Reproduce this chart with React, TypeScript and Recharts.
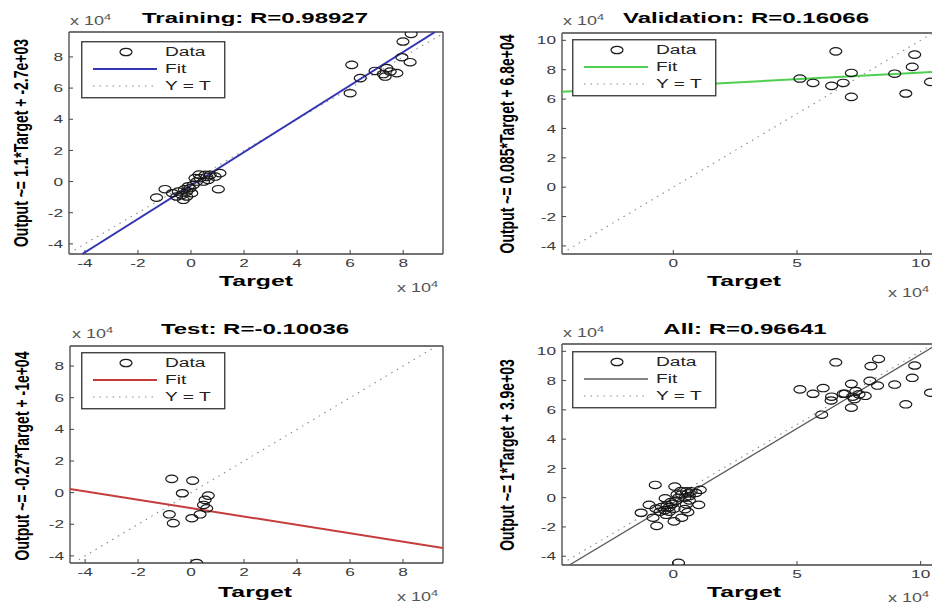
import React from 'react';
import { ScatterChart, Scatter, XAxis, YAxis, Legend } from 'recharts';

const FONT = '"Liberation Sans", Arial, Helvetica, sans-serif';

// ---------- data (values in units of 10^4) ----------
const trainingPoints = [
  { x: 8.3, y: 9.48 }, { x: 7.99, y: 8.99 }, { x: 6.06, y: 7.49 }, { x: 6.0, y: 5.67 },
  { x: 6.38, y: 6.64 }, { x: 6.94, y: 7.1 }, { x: 7.32, y: 6.74 }, { x: 7.51, y: 7.06 },
  { x: 7.76, y: 6.96 }, { x: 7.95, y: 7.98 }, { x: 8.26, y: 7.66 }, { x: 7.38, y: 7.28 },
  { x: 7.25, y: 6.9 },
  { x: -0.98, y: -0.49 }, { x: 1.03, y: -0.49 }, { x: -1.3, y: -1.03 }, { x: -0.54, y: -0.96 },
  { x: -0.35, y: -0.85 }, { x: -0.16, y: -0.64 }, { x: -0.04, y: -0.43 }, { x: 0.09, y: -0.21 },
  { x: 0.21, y: 0.0 }, { x: 0.34, y: 0.22 }, { x: 0.53, y: 0.43 }, { x: 0.72, y: 0.43 },
  { x: 0.91, y: 0.32 }, { x: 1.09, y: 0.54 }, { x: -0.29, y: -1.17 }, { x: -0.16, y: -0.96 },
  { x: -0.48, y: -0.64 }, { x: 0.15, y: 0.22 }, { x: 0.47, y: 0.0 }, { x: 0.65, y: 0.11 },
  { x: 0.03, y: -0.75 }, { x: -0.7, y: -0.75 }, { x: 0.3, y: 0.45 }, { x: -0.1, y: -0.3 },
  { x: 0.6, y: 0.3 }, { x: -0.25, y: -0.5 },
];
const validationPoints = [
  { x: 6.57, y: 9.25 }, { x: 9.76, y: 9.03 }, { x: 9.66, y: 8.19 }, { x: 8.95, y: 7.73 },
  { x: 7.2, y: 7.78 }, { x: 5.12, y: 7.4 }, { x: 5.65, y: 7.1 }, { x: 6.4, y: 6.9 },
  { x: 6.87, y: 7.1 }, { x: 7.2, y: 6.15 }, { x: 9.4, y: 6.38 }, { x: 10.4, y: 7.17 },
];
const testPoints = [
  { x: -0.73, y: 0.87 }, { x: 0.06, y: 0.76 }, { x: -0.33, y: -0.04 }, { x: 0.65, y: -0.19 },
  { x: 0.53, y: -0.46 }, { x: 0.47, y: -0.78 }, { x: 0.59, y: -0.99 }, { x: -0.82, y: -1.37 },
  { x: -0.67, y: -1.93 }, { x: 0.03, y: -1.62 }, { x: 0.34, y: -1.37 }, { x: 0.21, y: -4.45 },
];
const allPoints = [...trainingPoints, ...validationPoints, ...testPoints];

const trainingFit = [{ x: -4.1, y: -4.65 }, { x: 9.2, y: 9.6 }];
const validationFit = [{ x: -4.5, y: 6.5 }, { x: 10.5, y: 7.85 }];
const testFit = [{ x: -4.57, y: 0.23 }, { x: 9.51, y: -3.5 }];
const allFit = [{ x: -4.2, y: -4.6 }, { x: 10.5, y: 10.3 }];

const trainingIdentity = [{ x: -4.6, y: -4.6 }, { x: 9.5, y: 9.5 }];
const validationIdentity = [{ x: -4.5, y: -4.5 }, { x: 10.5, y: 10.5 }];
const testIdentity = [{ x: -4.45, y: -4.45 }, { x: 9.27, y: 9.27 }];
const allIdentity = [{ x: -4.5, y: -4.5 }, { x: 10.5, y: 10.5 }];

const smallTicks = [-4, -2, 0, 2, 4, 6, 8];
const bigYTicks = [-4, -2, 0, 2, 4, 6, 8, 10];
const bigXTicks = [0, 5, 10];

const titles = ['Training: R=0.98927', 'Validation: R=0.16066', 'Test: R=-0.10036', 'All: R=0.96641'];
const yLabels = [
  'Output ~= 1.1*Target + -2.7e+03',
  'Output ~= 0.085*Target + 6.8e+04',
  'Output ~= -0.27*Target + -1e+04',
  'Output ~= 1*Target + 3.9e+03',
];

// ---------- helpers ----------
const SX = 1.5;

function SText(p: any) {
  const { x, y, size, weight = 'normal', anchor = 'middle', fill = '#000', sx = SX, rotate = false, dy, children } = p;
  const t = rotate
    ? `translate(${x},${y}) scale(${sx},1) rotate(-90)`
    : `translate(${x},${y}) scale(${sx},1)`;
  return (
    <text transform={t} fontSize={size} fontWeight={weight} textAnchor={anchor} fill={fill} fontFamily={FONT} dy={dy}>
      {children}
    </text>
  );
}

const Ring = (props: any) => {
  const { cx, cy } = props;
  if (cx == null || cy == null) return <g />;
  return <ellipse cx={cx} cy={cy} rx={6} ry={3.7} fill="none" stroke="#1a1a1a" strokeWidth={1.2} />;
};
const NoDot = () => <g />;

const XTick = (props: any) => {
  const { x, y, payload } = props;
  return (
    <SText x={x} y={y} size={11.5} fill="#3a3a3a" dy="0.72em">
      {payload.value}
    </SText>
  );
};
const YTick = (props: any) => {
  const { x, y, payload } = props;
  return (
    <SText x={x} y={y} size={11.5} fill="#3a3a3a" anchor="end" dy="0.36em">
      {payload.value}
    </SText>
  );
};

function LegendBox({ color, width }: { color: string; width: number }) {
  return (
    <svg width={146} height={59} style={{ display: 'block' }}>
      <rect x={0.75} y={0.75} width={143} height={56} fill="#fff" stroke="#333" strokeWidth={1.3} />
      <Ring cx={45} cy={11} />
      <SText x={84} y={15} size={12} anchor="start" fill="#222" sx={1.6}>Data</SText>
      <line x1={12} y1={28} x2={76} y2={28} stroke={color} strokeWidth={width} />
      <SText x={84} y={32} size={12} anchor="start" fill="#222" sx={1.6}>Fit</SText>
      <line x1={12} y1={45} x2={76} y2={45} stroke="#888" strokeWidth={1} strokeDasharray="1.5 5" />
      <SText x={84} y={49} size={12} anchor="start" fill="#222" sx={1.6}>Y = T</SText>
    </svg>
  );
}

const Exp = (p: any) => (
  <SText x={p.x} y={p.y} size={12} anchor="start" fill="#555">
    x 10<tspan dy={-5} fontSize={8.5}>4</tspan>
  </SText>
);

const panels = [
  {
    left: 0, top: 0, width: 466, height: 304, yw: 69, mt: 32, mr: 23, xh: 50,
    xDomain: [-4.6, 9.5], yDomain: [-4.65, 9.6], xTicks: smallTicks, yTicks: smallTicks,
    points: trainingPoints, fit: trainingFit, ident: trainingIdentity, color: '#3434b4', lw: 2,
    title: titles[0], ylabel: yLabels[0],
    legend: [81, 41], titlePos: [255, 23], expTL: [70, 25], targetPos: [256, 286], expBR: [397, 292], yl: [28, 143],
  },
  {
    left: 466, top: 0, width: 480, height: 304, yw: 96, mt: 33, mr: 13, xh: 50,
    xDomain: [-4.5, 10.5], yDomain: [-4.55, 10.5], xTicks: bigXTicks, yTicks: bigYTicks,
    points: validationPoints, fit: validationFit, ident: validationIdentity, color: '#4fcf4f', lw: 2,
    title: titles[1], ylabel: yLabels[1],
    legend: [106, 39], titlePos: [280, 23], expTL: [97, 25], targetPos: [278, 286], expBR: [422, 297], yl: [48, 144],
  },
  {
    left: 0, top: 304, width: 466, height: 304, yw: 70, mt: 42, mr: 23, xh: 45,
    xDomain: [-4.57, 9.51], yDomain: [-4.45, 9.27], xTicks: smallTicks, yTicks: smallTicks,
    points: testPoints, fit: testFit, ident: testIdentity, color: '#c63c3c', lw: 2,
    title: titles[2], ylabel: yLabels[2],
    legend: [81, 48], titlePos: [255, 30], expTL: [72, 34], targetPos: [255, 293], expBR: [397, 297], yl: [29, 152],
  },
  {
    left: 466, top: 304, width: 480, height: 304, yw: 96, mt: 40, mr: 13, xh: 43,
    xDomain: [-4.5, 10.5], yDomain: [-4.6, 10.5], xTicks: bigXTicks, yTicks: bigYTicks,
    points: allPoints, fit: allFit, ident: allIdentity, color: '#5a5a5a', lw: 1.3,
    title: titles[3], ylabel: yLabels[3],
    legend: [106, 47], titlePos: [279, 30], expTL: [97, 33], targetPos: [278, 293], expBR: [422, 298], yl: [48, 151],
  },
];

const AX = '#444';

function Panel({ c }: { c: any }) {
  return (
    <div style={{ position: 'absolute', left: c.left, top: c.top, width: c.width, height: c.height }}>
      <ScatterChart width={c.width} height={c.height} margin={{ top: c.mt - 1, right: c.mr - 1, bottom: 0, left: 0 }}>
        <XAxis
          xAxisId="b" type="number" dataKey="x" domain={c.xDomain} ticks={c.xTicks} interval={0}
          allowDataOverflow height={c.xh} tickSize={-4} tickMargin={9} tick={<XTick />}
          axisLine={{ stroke: AX, strokeWidth: 1.3 }} tickLine={{ stroke: AX }}
        />
        <XAxis
          xAxisId="t" orientation="top" type="number" dataKey="x" domain={c.xDomain} ticks={c.xTicks} interval={0}
          allowDataOverflow height={1} tickSize={-4} tick={false}
          axisLine={{ stroke: AX, strokeWidth: 1.3 }} tickLine={{ stroke: AX }}
        />
        <YAxis
          yAxisId="l" type="number" dataKey="y" domain={c.yDomain} ticks={c.yTicks} interval={0}
          allowDataOverflow width={c.yw} tickSize={-4} tickMargin={10} tick={<YTick />}
          axisLine={{ stroke: AX, strokeWidth: 1.3 }} tickLine={{ stroke: AX }}
        />
        <YAxis
          yAxisId="r" orientation="right" type="number" dataKey="y" domain={c.yDomain} ticks={c.yTicks} interval={0}
          allowDataOverflow width={1} tickSize={-4} tick={false}
          axisLine={{ stroke: AX, strokeWidth: 1.3 }} tickLine={{ stroke: AX }}
        />
        <Scatter
          xAxisId="b" yAxisId="l" data={c.ident} fill="none" shape={NoDot} legendType="none"
          line={{ stroke: '#8a8a8a', strokeWidth: 1.1, strokeDasharray: '1.5 5' }} isAnimationActive={false}
        />
        <Scatter
          xAxisId="b" yAxisId="l" data={c.fit} fill="none" shape={NoDot} legendType="none"
          line={{ stroke: c.color, strokeWidth: c.lw }} isAnimationActive={false}
        />
        <Scatter xAxisId="b" yAxisId="l" data={c.points} shape={Ring} legendType="none" isAnimationActive={false} />
        <Legend
          layout="horizontal" verticalAlign="middle" align="center"
          wrapperStyle={{ left: c.legend[0], top: c.legend[1], width: 146, height: 59 }}
          content={() => <LegendBox color={c.color} width={c.lw} />}
        />
      </ScatterChart>
      <svg
        width={c.width} height={c.height}
        style={{ position: 'absolute', left: 0, top: 0, pointerEvents: 'none', overflow: 'visible' }}
      >
        <SText x={c.titlePos[0]} y={c.titlePos[1]} size={15} weight="bold" sx={1.6}>{c.title}</SText>
        <Exp x={c.expTL[0]} y={c.expTL[1]} />
        <SText x={c.targetPos[0]} y={c.targetPos[1]} size={15.5} weight="bold" sx={1.6}>Target</SText>
        <Exp x={c.expBR[0]} y={c.expBR[1]} />
        <SText x={c.yl[0]} y={c.yl[1]} size={14} weight="bold" rotate>{c.ylabel}</SText>
      </svg>
    </div>
  );
}

export default function App() {
  return (
    <div
      style={{
        position: 'absolute', left: 0, top: 0, width: 932, height: 608,
        overflow: 'hidden', background: '#fff',
      }}
    >
      {panels.map((c, i) => (
        <Panel key={i} c={c} />
      ))}
    </div>
  );
}
